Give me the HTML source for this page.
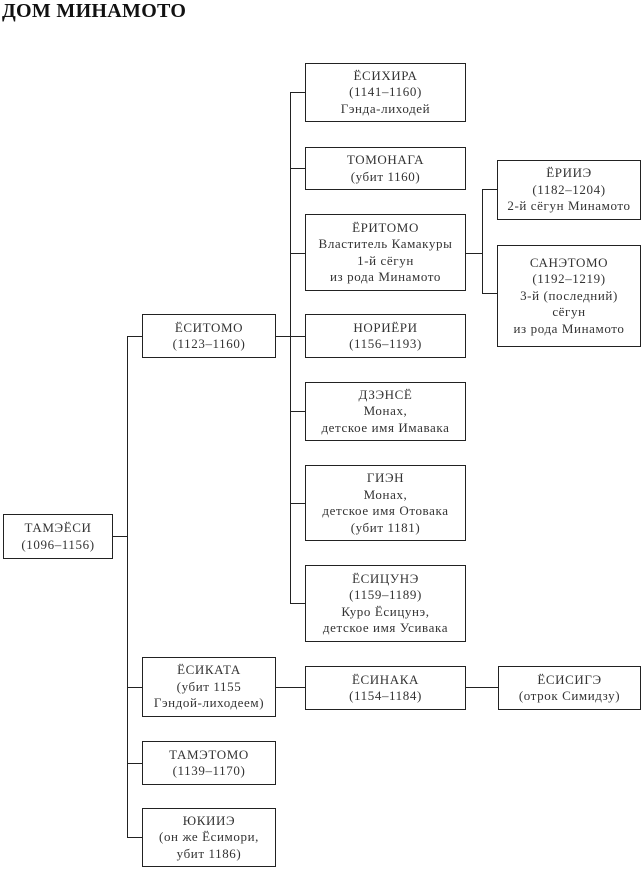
<!DOCTYPE html>
<html><head><meta charset="utf-8"><style>
body{margin:0;width:641px;height:869px;background:#fff;position:relative;font-family:"Liberation Serif",serif;color:#222;overflow:hidden}
.t{position:absolute;left:2px;top:0;font-weight:bold;font-size:20px;letter-spacing:0.3px;color:#111}
.b{position:absolute;border:1.3px solid #222;box-sizing:border-box;display:flex;flex-direction:column;justify-content:center;align-items:center;text-align:center;font-size:13px;line-height:16.5px;letter-spacing:0.6px;color:#333}
.l{position:absolute;background:#222}
.h{height:1.3px}.v{width:1.3px}
</style></head><body>
<div class="t">ДОМ МИНАМОТО</div>
<div class="l v" style="left:127px;top:336px;height:502px"></div>
<div class="l h" style="left:112px;top:536px;width:16px"></div>
<div class="l h" style="left:127px;top:336px;width:16px"></div>
<div class="l h" style="left:127px;top:687px;width:16px"></div>
<div class="l h" style="left:127px;top:763px;width:16px"></div>
<div class="l h" style="left:127px;top:837px;width:16px"></div>
<div class="l h" style="left:275px;top:336px;width:31px"></div>
<div class="l v" style="left:290px;top:92px;height:512px"></div>
<div class="l h" style="left:290px;top:92px;width:16px"></div>
<div class="l h" style="left:290px;top:168px;width:16px"></div>
<div class="l h" style="left:290px;top:253px;width:16px"></div>
<div class="l h" style="left:290px;top:411px;width:16px"></div>
<div class="l h" style="left:290px;top:503px;width:16px"></div>
<div class="l h" style="left:290px;top:603px;width:16px"></div>
<div class="l h" style="left:465px;top:253px;width:18px"></div>
<div class="l v" style="left:482px;top:189px;height:105px"></div>
<div class="l h" style="left:482px;top:189px;width:16px"></div>
<div class="l h" style="left:482px;top:293px;width:16px"></div>
<div class="l h" style="left:275px;top:687px;width:31px"></div>
<div class="l h" style="left:465px;top:687px;width:34px"></div>

<div class="b" style="left:3px;top:514px;width:110px;height:45px">ТАМЭЁСИ<br>(1096–1156)</div>
<div class="b" style="left:142px;top:314px;width:134px;height:44px">ЁСИТОМО<br>(1123–1160)</div>
<div class="b" style="left:142px;top:657px;width:134px;height:60px">ЁСИКАТА<br>(убит 1155<br>Гэндой-лиходеем)</div>
<div class="b" style="left:142px;top:741px;width:134px;height:44px">ТАМЭТОМО<br>(1139–1170)</div>
<div class="b" style="left:142px;top:808px;width:134px;height:59px">ЮКИИЭ<br>(он же Ёсимори,<br>убит 1186)</div>
<div class="b" style="left:305px;top:63px;width:161px;height:59px">ЁСИХИРА<br>(1141–1160)<br>Гэнда-лиходей</div>
<div class="b" style="left:305px;top:147px;width:161px;height:43px">ТОМОНАГА<br>(убит 1160)</div>
<div class="b" style="left:305px;top:214px;width:161px;height:77px">ЁРИТОМО<br>Властитель Камакуры<br>1-й сёгун<br>из рода Минамото</div>
<div class="b" style="left:305px;top:314px;width:161px;height:44px">НОРИЁРИ<br>(1156–1193)</div>
<div class="b" style="left:305px;top:382px;width:161px;height:59px">ДЗЭНСЁ<br>Монах,<br>детское имя Имавака</div>
<div class="b" style="left:305px;top:465px;width:161px;height:76px">ГИЭН<br>Монах,<br>детское имя Отовака<br>(убит 1181)</div>
<div class="b" style="left:305px;top:565px;width:161px;height:77px">ЁСИЦУНЭ<br>(1159–1189)<br>Куро Ёсицунэ,<br>детское имя Усивака</div>
<div class="b" style="left:305px;top:666px;width:161px;height:44px">ЁСИНАКА<br>(1154–1184)</div>
<div class="b" style="left:497px;top:160px;width:144px;height:60px">ЁРИИЭ<br>(1182–1204)<br>2-й сёгун Минамото</div>
<div class="b" style="left:497px;top:245px;width:144px;height:102px">САНЭТОМО<br>(1192–1219)<br>3-й (последний)<br>сёгун<br>из рода Минамото</div>
<div class="b" style="left:498px;top:666px;width:143px;height:44px">ЁСИСИГЭ<br>(отрок Симидзу)</div>
</body></html>
